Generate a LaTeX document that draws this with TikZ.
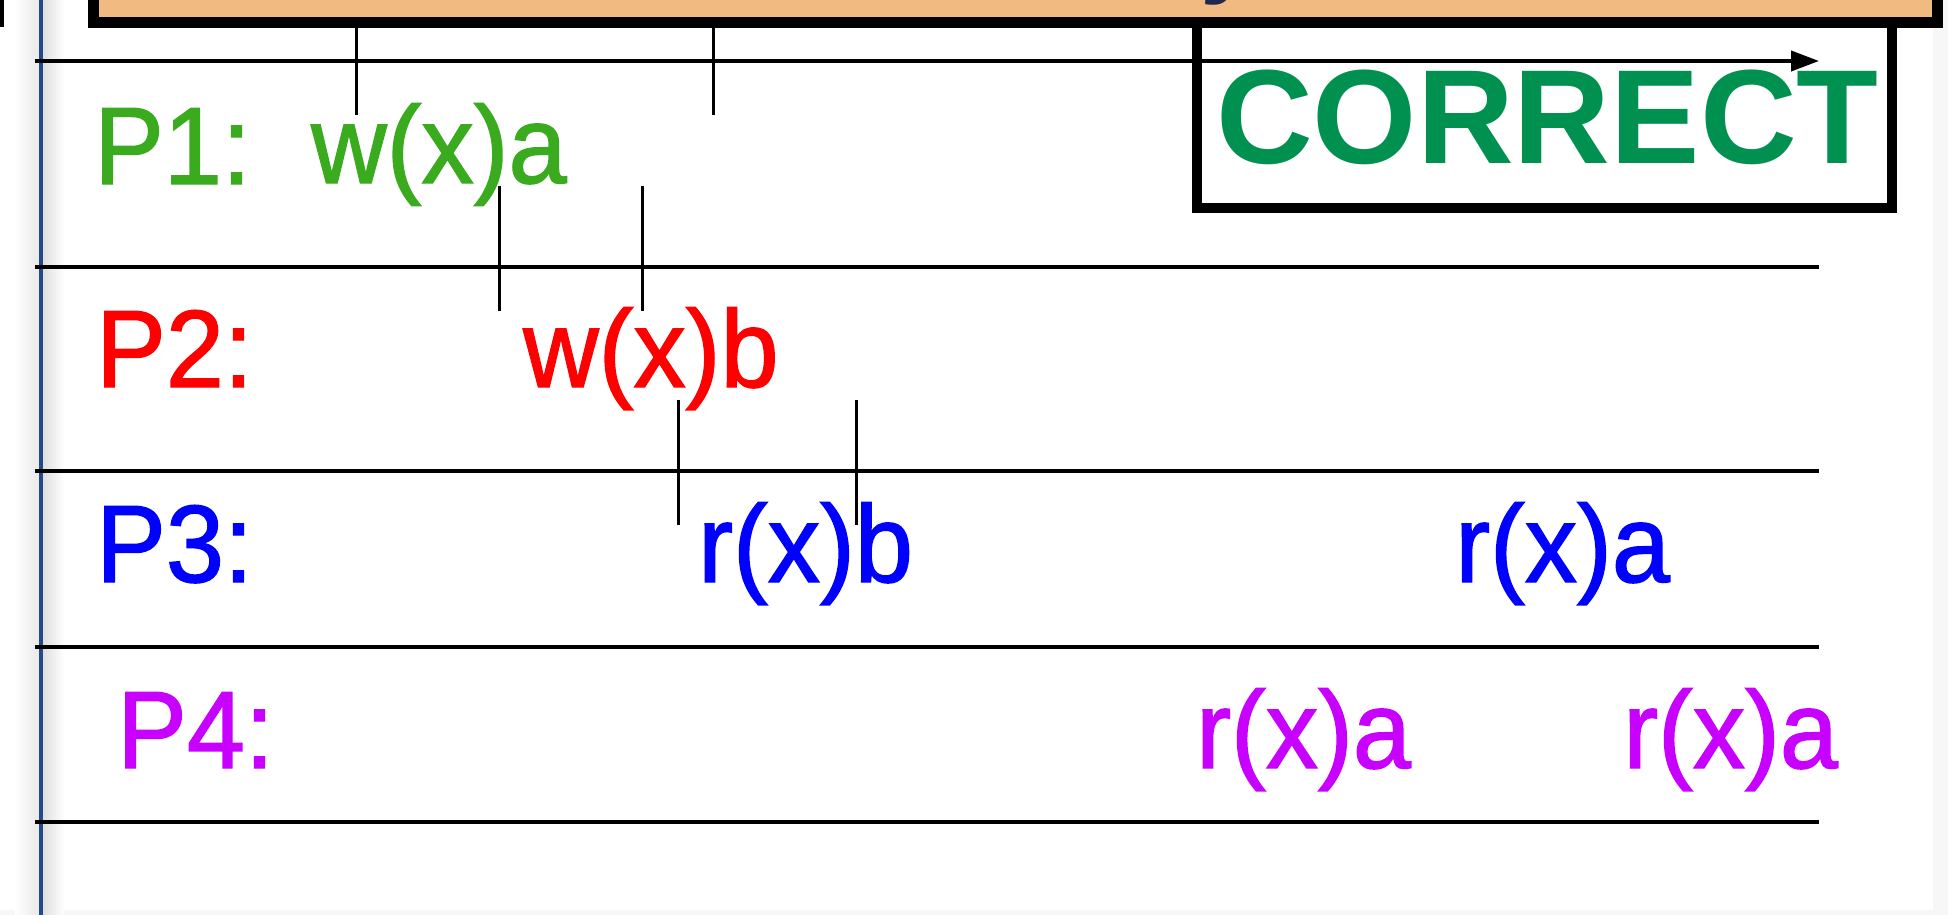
\documentclass[tikz,border=0pt]{standalone}
\usepackage{fontspec}
\setmainfont{Liberation Sans}
\newfontfamily\opfont{Liberation Sans}[FakeBold=1.3, FakeStretch=0.95]
\usetikzlibrary{arrows.meta,positioning}
\definecolor{pOneGreen}{RGB}{58,170,30}
\definecolor{pTwoRed}{RGB}{255,0,0}
\definecolor{pThreeBlue}{RGB}{0,0,255}
\definecolor{pFourPurple}{RGB}{200,0,255}
\definecolor{okGreen}{RGB}{0,145,80}
\definecolor{bannerOrange}{RGB}{240,186,128}
\definecolor{bannerInk}{RGB}{30,40,80}
\definecolor{marginBlue}{RGB}{35,75,140}

\begin{document}
\begin{tikzpicture}[
    x=1pt, y=-1pt,
    timeline/.style={line width=4pt, black},
    opmark/.style={line width=3pt, black},
    label/.style={anchor=base west, inner sep=0pt, font=\opfont\fontsize{110}{120}\selectfont},
    verdict/.style={anchor=base west, inner sep=0pt, text=okGreen, font=\fontsize{134}{150}\selectfont\bfseries}
  ]
    \useasboundingbox (0,0) rectangle (1948,915);

    % page edge and margin rule
    \fill[black!3] (1933,0) rectangle (1948,915);
    \fill[black!3] (0,910) rectangle (1948,915);
    \shade[left color=white, right color=black!9] (15,0) rectangle (40,915);
    \shade[left color=black!13, right color=white] (42,0) rectangle (64,915);
    \draw[marginBlue, line width=3.5pt] (41,0) -- (41,915);
    \fill[black] (0,0) rectangle (4,27);

    % process labels
    \node[label, text=pOneGreen]   (p1) at (94,184) {P1:};
    \node[label, text=pTwoRed]     (p2) at (96,387) {P2:};
    \node[label, text=pThreeBlue]  (p3) at (96,582) {P3:};
    \node[label, text=pFourPurple] (p4) at (117,768) {P4:};

    % operations
    \node[label, text=pOneGreen]   (wa)  at (311,183) {w(x)a};
    \node[label, text=pTwoRed]     (wb)  at (523,387) {w(x)b};
    \node[label, text=pThreeBlue]  (rb)  at (698,582) {r(x)b};
    \node[label, text=pThreeBlue]  (ra)  at (1455,582) {r(x)a};
    \node[label, text=pFourPurple] (raa) at (1196,768) {r(x)a};
    \node[label, text=pFourPurple] (rab) at (1623,768) {r(x)a};

    % operation intervals
    \foreach \x/\ya/\yb in {356/20/115, 713/20/115, 499/186/311, 642/186/311, 678/400/525, 856/400/525}
      \draw[opmark] (\x,\ya) -- (\x,\yb);

    % verdict box
    \draw[line width=10pt] (1197,0) -- (1197,208) -- (1892,208) -- (1892,0);
    \node[verdict] (ok) at (1216,163) {CORRECT};

    % time lines
    \foreach \y/\n in {61/1, 267/2, 471/3, 647/4, 822/5} {
      \coordinate (s\n) at (35,\y);
      \coordinate (e\n) at (1819,\y);
    }
    \draw[timeline, -{Triangle[length=28pt, width=20pt]}] (s1) -- (e1);
    \foreach \n in {2,...,5}
      \draw[timeline] (s\n) -- (e\n);

    % title banner
    \draw[fill=bannerOrange, line width=11pt] (93.5,-30) rectangle (1937.5,22.5);
    \node[anchor=base west, inner sep=0pt, text=bannerInk, font=\fontsize{100}{110}\selectfont\bfseries] (ttl) at (1200,-15) {y};
  \end{tikzpicture}
\end{document}
